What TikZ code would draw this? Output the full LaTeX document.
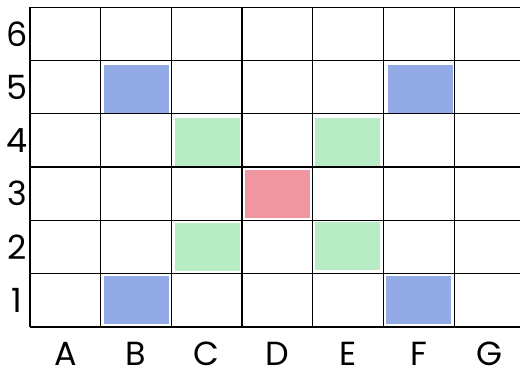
\documentclass[tikz,border=0pt]{standalone}
\usepackage{fontspec}
\setmainfont{Poppins}
\definecolor{pencilblue}{RGB}{146,170,230}
\definecolor{pencilgreen}{RGB}{184,236,196}
\definecolor{pencilred}{RGB}{240,150,160}
\begin{document}
\begin{tikzpicture}[x=1.414cm, y=1.066cm, every node/.style={font=\fontsize{19}{21}\selectfont,inner sep=0pt},
  shade box/.style={draw=none,minimum width=1.3cm,minimum height=0.96cm,inner sep=0pt}]
\useasboundingbox (-0.424,-0.807) rectangle (6.93,6.135);
\begin{scope}
\clip (-0.424,-0.807) rectangle (6.93,6.135);
\node[shade box,fill=pencilblue] (b5) at (1.51,4.47) {};
\node[shade box,fill=pencilblue] (f5) at (5.52,4.47) {};
\node[shade box,fill=pencilgreen] (c4) at (2.51,3.48) {};
\node[shade box,fill=pencilgreen] (e4) at (4.49,3.48) {};
\node[shade box,fill=pencilred] (d3) at (3.5,2.5) {};
\node[shade box,fill=pencilgreen] (c2) at (2.51,1.5) {};
\node[shade box,fill=pencilgreen] (e2) at (4.49,1.52) {};
\node[shade box,fill=pencilblue] (b1) at (1.51,0.5) {};
\node[shade box,fill=pencilblue] (f1) at (5.5,0.5) {};
\draw[line width=0.75pt,step=1] (0,0) grid (7,6);
\end{scope}
\foreach \r in {1,...,6}
  \node (row\r) at (-0.184,\r-0.5) {\r};
\foreach \c [count=\i] in {A,B,C,D,E,F,G}
  \node (col\c) at (\i-0.5,-0.5) {\c};
\end{tikzpicture}
\end{document}
